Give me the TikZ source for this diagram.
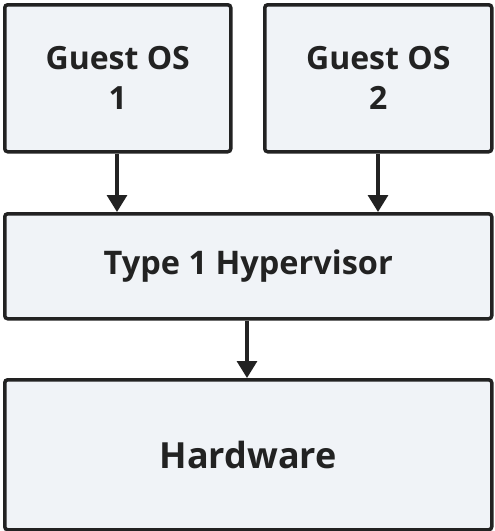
\documentclass[tikz,border=0pt]{standalone}
\usepackage{fontspec}
\setmainfont{Open Sans}
\usetikzlibrary{arrows.meta}
\definecolor{boxfill}{HTML}{F0F3F7}
\definecolor{ink}{HTML}{222222}
\begin{document}
\begin{tikzpicture}[x=1pt,y=-1pt,
  blk/.style={draw=ink, line width=3.5pt, fill=boxfill, rounded corners=3pt, inner sep=0pt, anchor=north west, text=ink, font=\bfseries, align=center},
  arr/.style={draw=ink, line width=3.2pt, -{Triangle[length=17pt,width=20pt]}}]
\useasboundingbox (0,0) rectangle (495,531);
\node[blk, minimum width=226pt, minimum height=147pt, font=\fontsize{32}{40}\selectfont\bfseries] (g1) at (3,3) {Guest OS\\1};
\node[blk, minimum width=227pt, minimum height=147pt, font=\fontsize{32}{40}\selectfont\bfseries] (g2) at (263,3) {Guest OS\\2};
\node[blk, minimum width=487pt, minimum height=105pt, font=\fontsize{32.5}{36}\selectfont\bfseries] (hv) at (3,212) {Type 1 Hypervisor};
\node[blk, minimum width=487pt, minimum height=150pt, font=\fontsize{36}{42}\selectfont\bfseries] (hw) at (3,378) {Hardware};
\draw[arr] (g1.south -| 117,0) -- (hv.north -| 117,0);
\draw[arr] (g2.south -| 378,0) -- (hv.north -| 378,0);
\draw[arr] (hv.south -| 247,0) -- (hw.north -| 247,0);
\end{tikzpicture}
\end{document}
